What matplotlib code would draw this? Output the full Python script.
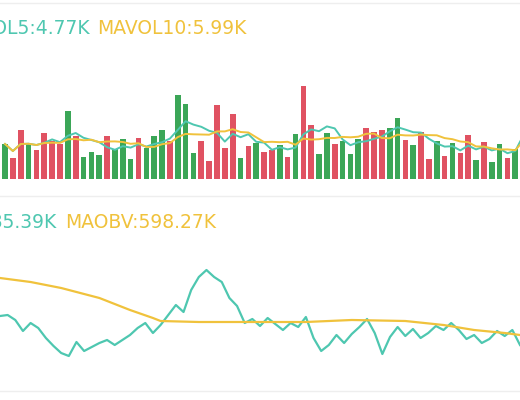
import matplotlib.pyplot as plt
import numpy as np
import pandas as pd

# volume bars (relative height), 1 = up (green), 0 = down (red)
volume = [35, 21, 49, 36, 29, 46, 38, 35, 68, 43, 22, 27, 24, 43, 30, 40, 20,
          41, 31, 43, 49, 38, 84, 75, 26, 38, 18, 74, 31, 65, 21, 33, 36,
          27, 29, 34, 22, 45, 93, 54, 25, 46, 35, 38, 25, 40, 51, 47, 49,
          51, 61, 39, 34, 47, 20, 38, 23, 36, 26, 44, 19, 37, 17, 35, 21,
          30, 113]
up = [1, 0, 0, 1, 0, 0, 0, 0, 1, 0, 1, 1, 1, 0, 1, 1, 1,
      0, 1, 1, 1, 0, 1, 1, 1, 0, 0, 0, 0, 0, 1, 0, 1,
      0, 0, 1, 0, 1, 0, 0, 1, 1, 0, 1, 1, 1, 0, 0, 0,
      1, 1, 0, 1, 0, 0, 1, 0, 1, 0, 0, 1, 0, 1, 1, 0,
      1, 0]

obv = [84, 85, 80, 69, 77, 72, 62, 54, 47, 44, 58, 49, 53, 57, 60, 55, 60,
       65, 72, 77, 67, 75, 85, 95, 88, 110, 123, 130, 123, 118, 102, 94,
       77, 81, 74, 82, 76, 70, 77, 73, 83, 62, 49, 55, 65, 57, 66, 73, 81,
       67, 46, 63, 73, 64, 71, 62, 67, 74, 70, 77, 70, 61, 65, 57, 61, 69,
       64, 70, 55]
maobv_days = [0, 4, 8, 13, 17, 20, 21, 26, 33, 40, 46, 53, 58, 62, 66, 68]
maobv = [122, 118, 112, 102, 90, 82, 79, 78, 78, 78, 80, 79, 75, 70, 67, 65]

green, red = "#3ba657", "#e05262"
teal, gold = "#4ec7b0", "#f0c23c"

vol = pd.Series(volume, dtype=float)
ma5 = vol.rolling(5, min_periods=1).mean()
ma10 = vol.rolling(10, min_periods=1).mean()

fig = plt.figure(figsize=(5.2, 4.0), dpi=100)

ax1 = fig.add_axes([0, 1 - 179 / 400, 1, 179 / 400])
x = np.arange(len(volume))
ax1.bar(x, volume, width=0.72, color=[green if u else red for u in up])
ax1.plot(x, ma5, color=teal, lw=1.4)
ax1.plot(x, ma10, color=gold, lw=1.4)
ax1.set_xlim(-0.64, 65.6)
ax1.set_ylim(0, 179)
ax1.axis("off")

ax2 = fig.add_axes([0, 0, 1, 0.5])
ax2.plot(np.arange(len(obv)), obv, color=teal, lw=1.6)
ax2.plot(maobv_days, maobv, color=gold, lw=1.6)
ax2.set_xlim(0, len(obv) - 1)
ax2.set_ylim(0, 200)
ax2.axis("off")

# separators
for yy in (1 - 3 / 400, 1 - 196 / 400, 1 - 391 / 400):
    fig.add_artist(plt.Line2D([0, 1], [yy, yy], color="#eeeeee", lw=1))

fs = 13.5
fig.text(90 / 520, 1 - 29 / 400, "MAVOL5:4.77K", color=teal, fontsize=fs,
         ha="right", va="center")
fig.text(97 / 520, 1 - 29 / 400, "MAVOL10:5.99K", color=gold, fontsize=fs,
         ha="left", va="center")
fig.text(56 / 520, 1 - 223 / 400, "OBV:585.39K", color=teal, fontsize=fs,
         ha="right", va="center")
fig.text(65 / 520, 1 - 223 / 400, "MAOBV:598.27K", color=gold, fontsize=fs,
         ha="left", va="center")

fig.savefig("out.png", dpi=100, facecolor="white")
